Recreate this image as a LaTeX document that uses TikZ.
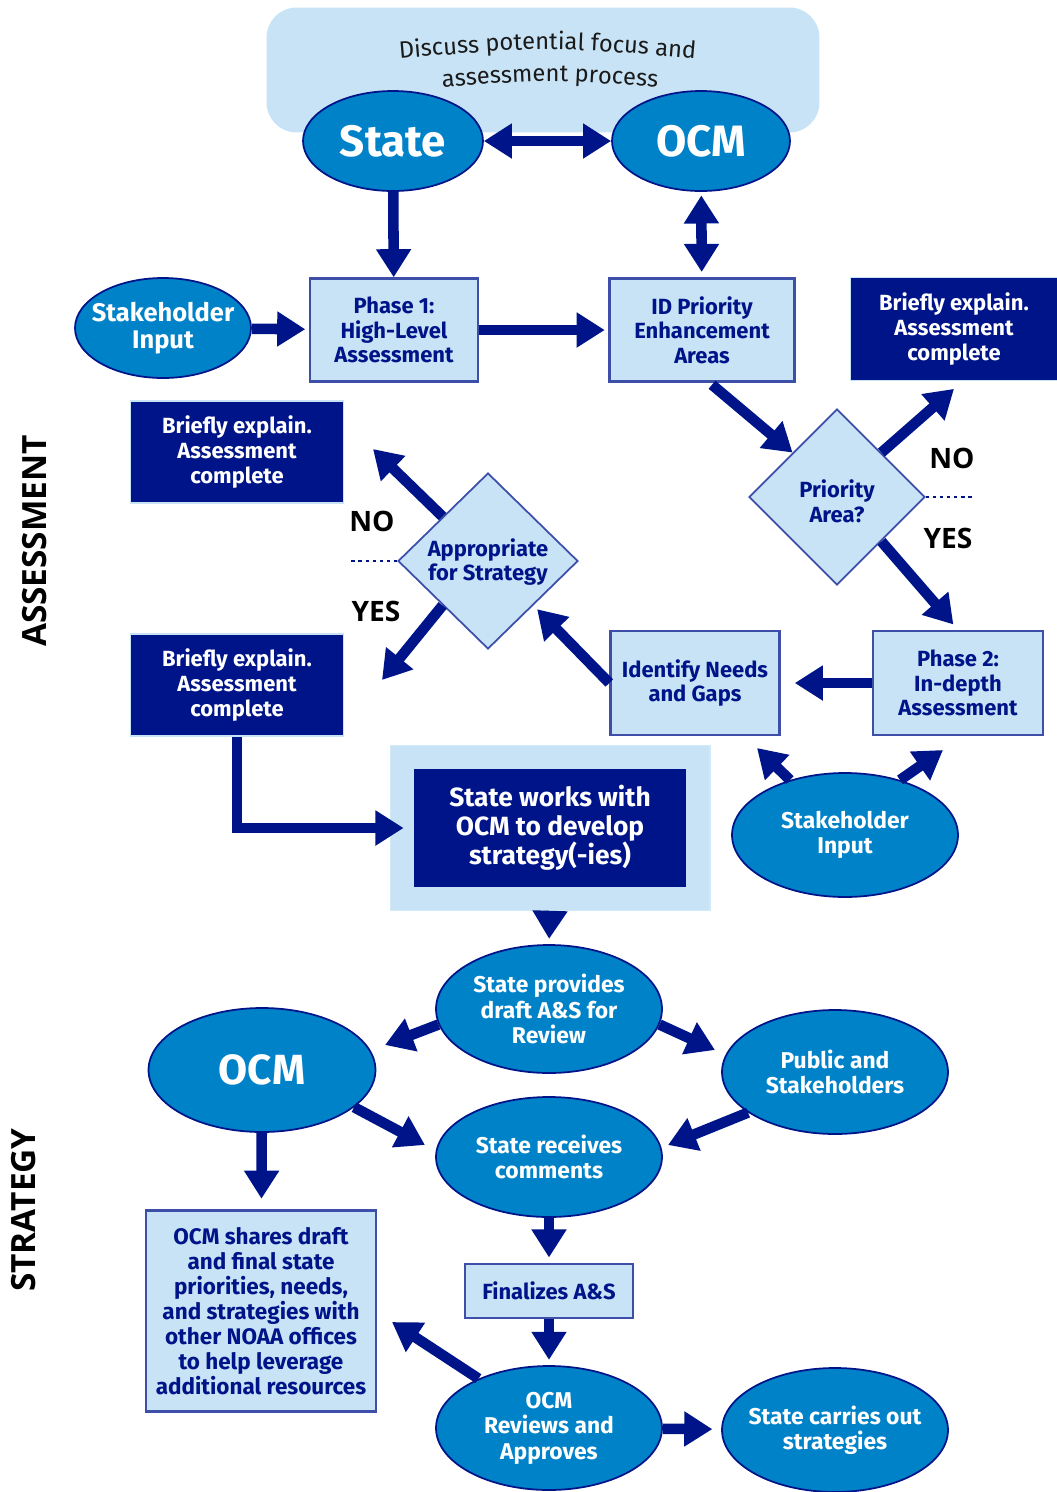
\documentclass[tikz,border=0pt]{standalone}
\usepackage{fontspec}
\setmainfont{Fira Sans}
\newfontfamily\sidefont{Open Sans}
\usetikzlibrary{arrows.meta}
\usetikzlibrary{shapes.geometric}
\usetikzlibrary{decorations.text}
\definecolor{navy}{HTML}{001489}
\definecolor{ocean}{HTML}{0082C8}
\definecolor{pale}{HTML}{C7E3F5}
\definecolor{edge}{HTML}{3D4FA8}
\definecolor{ink}{HTML}{1A1A1A}
\tikzset{
      ellip/.style={ellipse, draw=navy, line width=1pt, fill=ocean, text=white, inner sep=-0.3cm,
            align=center, font=\bfseries\fontsize{13}{14.5}\selectfont},
      lbox/.style={rectangle, draw=edge, line width=1.4pt, fill=pale, text=navy, inner sep=0pt,
            align=center, font=\bfseries\fontsize{12.5}{14}\selectfont},
      dbox/.style={rectangle, draw=pale, line width=1pt, fill=navy, text=white, inner sep=0pt,
            align=center, font=\bfseries\fontsize{12.5}{14.5}\selectfont},
      choice/.style={diamond, draw=edge, line width=1pt, fill=pale, inner sep=0pt},
      choicetext/.style={text=navy, align=center, font=\bfseries\fontsize{12.5}{14}\selectfont},
      flow/.style={draw=navy, line width=6pt, -{Triangle[width=19pt,length=16pt]}},
      dflow/.style={draw=navy, line width=6pt, {Triangle[width=19pt,length=16pt]}-{Triangle[width=19pt,length=16pt]}},
      answer/.style={text=black, font=\sidefont\bfseries\fontsize{16}{18}\selectfont},
      side/.style={text=black, rotate=90, font=\sidefont\bfseries\fontsize{19}{21}\selectfont},
}
\begin{document}
\begin{tikzpicture}[x=0.02cm, y=-0.02cm]
        \useasboundingbox (0,0) rectangle (1057,1492);

        % Side titles
        \node[side] (sideA) at (35,541) {ASSESSMENT};
        \node[side] (sideS) at (24,1210) {STRATEGY};

        % Discussion band
        \node[rectangle, rounded corners=0.6cm, fill=pale, minimum width=11.06cm, minimum height=2.5cm] (band) at (543,70) {};
        \path[decorate, decoration={text along path, text align=center, text color=ink,
              text={|\fontsize{13.5}{15}\selectfont|Discuss potential focus and}}] (385,60) .. controls (548,46) .. (710,60);
        \path[decorate, decoration={text along path, text align=center, text color=ink,
              text={|\fontsize{13.5}{15}\selectfont|assessment process}}] (437,88) .. controls (550,79) .. (663,88);

        % Assessment nodes
        \node[ellip, minimum width=3.6cm, minimum height=2cm, font=\bfseries\fontsize{25}{27}\selectfont] (state) at (393,141) {State};
        \node[ellip, minimum width=3.56cm, minimum height=2cm, font=\bfseries\fontsize{25}{27}\selectfont] (ocm) at (701,141) {OCM};
        \node[ellip, minimum width=3.52cm, minimum height=2cm, font=\bfseries\fontsize{14.5}{15.5}\selectfont] (stake) at (163,328) {Stakeholder\\Input};
        \node[lbox, minimum width=3.36cm, minimum height=2.06cm] (phaseA) at (394,330) {Phase 1:\\High-Level\\Assessment};
        \node[lbox, minimum width=3.7cm, minimum height=2.06cm] (idarea) at (702,330) {ID Priority\\Enhancement\\Areas};
        \node[dbox, minimum width=4.14cm, minimum height=2.06cm] (briefR) at (954,329) {Briefly explain.\\Assessment\\complete};
        \node[choice, minimum width=3.52cm, minimum height=3.52cm] (prio) at (837,497) {};
        \node[choicetext] (prioT) at (837,501) {Priority\\Area?};
        \node[lbox, minimum width=3.4cm, minimum height=2.08cm] (phaseB) at (958,683) {Phase 2:\\In-depth\\Assessment};
        \node[lbox, minimum width=3.38cm, minimum height=2.08cm] (needs) at (695,683) {Identify Needs\\and Gaps};
        \node[choice, minimum width=3.6cm, minimum height=3.52cm] (appr) at (488,561) {};
        \node[choicetext] (apprT) at (488,562) {Appropriate\\for Strategy};
        \node[dbox, minimum width=4.26cm, minimum height=2.04cm] (briefA) at (237,452) {Briefly explain.\\Assessment\\complete};
        \node[dbox, minimum width=4.26cm, minimum height=2.04cm] (briefB) at (237,685) {Briefly explain.\\Assessment\\complete};
        \node[ellip, minimum width=4.52cm, minimum height=2.48cm] (stakeB) at (845,835) {Stakeholder\\Input};

        % Yes and no answers
        \node[answer] (noR) at (952,458) {NO};
        \node[answer] (yesR) at (948,538) {YES};
        \node[answer] (noL) at (372,521) {NO};
        \node[answer] (yesL) at (376,611) {YES};
        \draw[navy, line width=1pt, dash pattern=on 2pt off 2pt] (prio.east) -- (975,497);
        \draw[navy, line width=1pt, dash pattern=on 2pt off 2pt] (appr.west) -- (350,561);

        % Strategy nodes
        \node[rectangle, draw=pale!80!white, line width=0.6pt, fill=pale, minimum width=6.4cm, minimum height=3.3cm] (stratbg) at (550,828) {};
        \node[dbox, draw=navy, minimum width=5.4cm, minimum height=2.34cm, font=\bfseries\fontsize{15}{16.5}\selectfont] (strat) at (550,828) {State works with\\OCM to develop\\strategy(-ies)};
        \node[ellip, minimum width=4.52cm, minimum height=2.56cm] (provides) at (549,1009) {State provides\\draft A\&S for\\Review};
        \node[ellip, minimum width=4.54cm, minimum height=2.48cm, font=\bfseries\fontsize{24}{26}\selectfont] (ocmB) at (262,1070) {OCM};
        \node[ellip, minimum width=4.52cm, minimum height=2.48cm] (public) at (835,1072) {Public and\\Stakeholders};
        \node[ellip, minimum width=4.52cm, minimum height=2.4cm] (receives) at (549,1157) {State receives\\comments};
        \node[lbox, minimum width=4.6cm, minimum height=4.02cm, font=\bfseries\fontsize{12.8}{14.2}\selectfont] (shares) at (261,1311) {OCM shares draft\\and final state\\priorities, needs,\\and strategies with\\other NOAA offices\\to help leverage\\additional resources};
        \node[lbox, minimum width=3.36cm, minimum height=1.08cm] (final) at (549,1291) {Finalizes A\&S};
        \node[ellip, minimum width=4.52cm, minimum height=2.48cm] (reviews) at (549,1428) {OCM\\Reviews and\\Approves};
        \node[ellip, minimum width=4.52cm, minimum height=2.48cm] (carries) at (835,1430) {State carries out\\strategies};

        % Free arrow ends
        \coordinate (noLtip) at (373,449);
        \coordinate (yesLtip) at (382,680);
        \coordinate (stakeTipA) at (757,748);
        \coordinate (stakeTipB) at (943,750);
        \coordinate (provTipA) at (385,1045);
        \coordinate (provTipB) at (715,1050);
        \coordinate (ocmTip) at (425,1145);
        \coordinate (pubTip) at (668,1145);
        \coordinate (revTip) at (392,1322);

        % Draw the arrows
        \draw[dflow] (state) -- (ocm);
        \draw[flow] (state) -- (phaseA) ;
        \draw[dflow, shorten <=2pt, shorten >=3pt] (ocm) -- (idarea);
        \draw[flow, shorten >=2pt] (stake) -- (phaseA);
        \draw[flow, shorten >=2pt] (phaseA) -- (idarea);
        \draw[flow] (idarea.south) ++(10,2) -- (prio.north west);
        \draw[flow] (prio.north east) -- ([yshift=-0.15cm]briefR.south);
        \draw[flow, shorten >=4pt] (prio.south east) -- (phaseB.north);
        \draw[flow, shorten >=8pt] (phaseB) -- (needs);
        \draw[flow, shorten >=3pt] (needs.west) -- (appr.south east);
        \draw[flow] (appr.north west) -- (noLtip);
        \draw[flow] (appr.south west) -- (yesLtip);
        \draw[flow] (stakeB.135) -- (stakeTipA);
        \draw[flow] (stakeB.45) -- (stakeTipB);
        \draw[flow, shorten >=6pt] (briefB.south) |- (strat.west);
        \draw[flow, shorten >=3pt] (stratbg.south) -- (provides.north);
        \draw[flow] (provides.188) -- (provTipA);
        \draw[flow] (provides.-8) -- (provTipB);
        \draw[flow] (ocmB.-22) -- (ocmTip);
        \draw[flow] (public.205) -- (pubTip);
        \draw[flow, shorten >=6pt] (ocmB) -- (shares);
        \draw[flow, shorten >=3pt] (receives) -- (final);
        \draw[flow, shorten >=3pt] (final) -- (reviews);
        \draw[flow] (reviews.145) -- (revTip);
        \draw[flow, shorten >=5pt] (reviews) -- (carries);

\end{tikzpicture}
\end{document}
